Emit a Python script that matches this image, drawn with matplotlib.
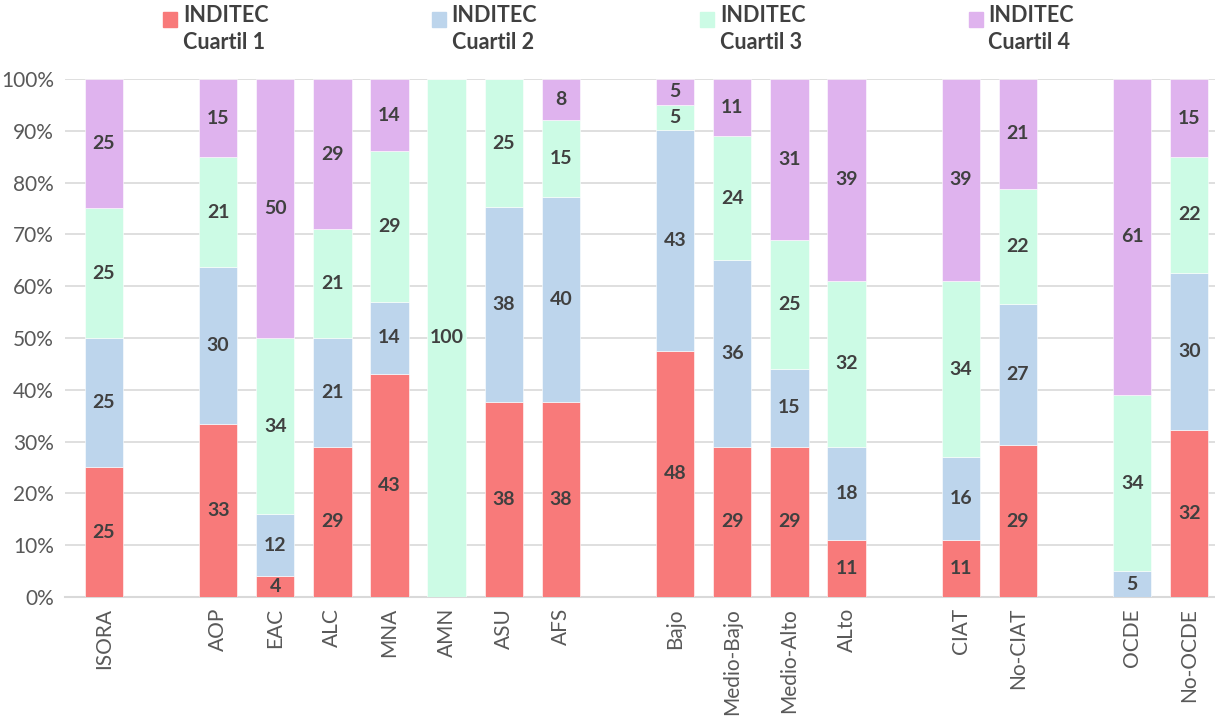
import numpy as np
import matplotlib.pyplot as plt
from matplotlib.patches import Rectangle

categories = ['ISORA', '', 'AOP', 'EAC', 'ALC', 'MNA', 'AMN', 'ASU', 'AFS', '',
              'Bajo', 'Medio-Bajo', 'Medio-Alto', 'ALto', '', 'CIAT', 'No-CIAT', '',
              'OCDE', 'No-OCDE']

q1 = [25, 0, 33, 4, 29, 43, 0, 38, 38, 0, 48, 29, 29, 11, 0, 11, 29, 0, 0, 32]
q2 = [25, 0, 30, 12, 21, 14, 0, 38, 40, 0, 43, 36, 15, 18, 0, 16, 27, 0, 5, 30]
q3 = [25, 0, 21, 34, 21, 29, 100, 25, 15, 0, 5, 24, 25, 32, 0, 34, 22, 0, 34, 22]
q4 = [25, 0, 15, 50, 29, 14, 0, 0, 8, 0, 5, 11, 31, 39, 0, 39, 21, 0, 61, 15]

series_names = ['INDITEC\nCuartil 1', 'INDITEC\nCuartil 2', 'INDITEC\nCuartil 3', 'INDITEC\nCuartil 4']
colors = ['#F87A7A', '#BDD5EC', '#CCFBE5', '#DFB3EE']

plt.rcParams['font.family'] = ['Lato', 'DejaVu Sans']

data = np.array([q1, q2, q3, q4], dtype=float)
totals = data.sum(axis=0)
totals[totals == 0] = 1
shares = data / totals * 100

W, H = 1215, 724
fig = plt.figure(figsize=(W / 100, H / 100), dpi=100)
ax = fig.add_axes([0.0535, 0.1754, 0.9465, 0.7156])

x = np.arange(len(categories))
bottom = np.zeros(len(categories))
for i in range(4):
    ax.bar(x, shares[i], 0.67, bottom=bottom, color=colors[i],
           edgecolor='white', linewidth=0.4, zorder=3)
    for j in range(len(categories)):
        if data[i, j] > 0:
            ax.text(x[j], bottom[j] + shares[i, j] / 2, '%d' % data[i, j],
                    ha='center', va='center', fontsize=14, fontweight='bold',
                    color='#404040', zorder=4)
    bottom += shares[i]

ax.set_ylim(0, 100)
ax.set_xlim(-0.68, 19.45)
ax.set_yticks(np.arange(0, 101, 10))
ax.set_yticklabels(['%d%%' % v for v in range(0, 101, 10)], fontsize=15, color='#595959')
ax.set_xticks(x)
ax.set_xticklabels(categories, rotation=90, fontsize=15, color='#595959')
ax.tick_params(length=0, pad=8)
ax.yaxis.grid(True, color='#D9D9D9', linewidth=1.2, zorder=0)
ax.set_axisbelow(True)
for s in ['top', 'right', 'left']:
    ax.spines[s].set_visible(False)
ax.spines['bottom'].set_color('#D9D9D9')
ax.spines['bottom'].set_linewidth(1.5)

# legend drawn by hand so the square sits beside the first line
for i in range(4):
    x0 = 163 + i * 268.5
    fig.add_artist(Rectangle((x0 / W, 1 - 27 / H), 14 / W, 15 / H,
                             transform=fig.transFigure, color=colors[i]))
    fig.text((x0 + 20) / W, 1 - 5 / H, series_names[i], ha='left', va='top',
             fontsize=15.5, fontweight='bold', color='#404040', linespacing=1.35)

fig.savefig('out.png', dpi=100)
